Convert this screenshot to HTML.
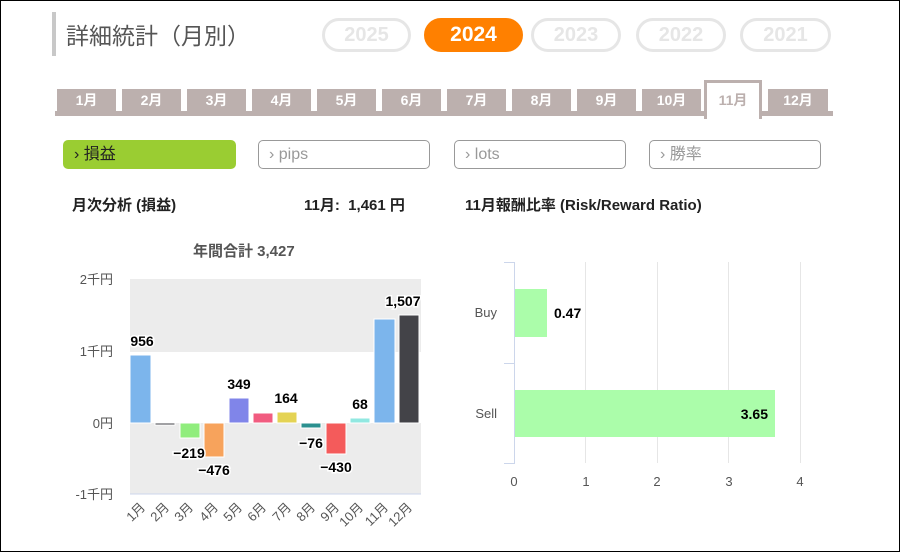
<!DOCTYPE html>
<html><head><meta charset="utf-8"><style>
body{margin:0;width:900px;height:552px;overflow:hidden;background:#fff;font-family:"Liberation Sans","Noto Sans CJK JP",sans-serif;}
.a{position:absolute}
.frame{position:absolute;left:0;top:0;width:898px;height:550px;border:1px solid #000}
.pill{position:absolute;top:18px;height:28px;border:3px solid #e6e6e6;border-radius:17px;color:#e6e6e6;font-weight:bold;font-size:20px;text-align:center;line-height:28px}
.tab{position:absolute;top:89px;height:23px;width:59px;background:#bcb0ae;color:#fff;font-weight:bold;font-size:14px;text-align:center;line-height:23px}
.btn{position:absolute;top:140px;height:27px;border:1px solid #999;border-radius:5px;color:#999;font-size:16px;line-height:27px;padding-left:10px;box-sizing:content-box}
.h{font-weight:bold;font-size:15px;color:#222}
</style></head><body>
<div class="frame"></div>
<div class="a" style="left:52px;top:12px;width:4px;height:44px;background:#c8c8c8"></div>
<div class="a" style="left:66px;top:17px;font-size:23px;color:#555">詳細統計（月別）</div>
<div class="pill" style="left:322px;width:83px">2025</div>
<div class="pill" style="left:424px;width:93px;background:#ff8000;border-color:#ff8000;color:#fff;font-size:21px">2024</div>
<div class="pill" style="left:531px;width:84px">2023</div>
<div class="pill" style="left:636px;width:84px">2022</div>
<div class="pill" style="left:740px;width:85px">2021</div>
<div class="a" style="left:55px;top:111px;width:778px;height:5px;background:#bcb0ae"></div>
<div class="tab" style="left:57px">1月</div>
<div class="tab" style="left:122px">2月</div>
<div class="tab" style="left:187px">3月</div>
<div class="tab" style="left:252px">4月</div>
<div class="tab" style="left:317px">5月</div>
<div class="tab" style="left:382px">6月</div>
<div class="tab" style="left:447px">7月</div>
<div class="tab" style="left:512px">8月</div>
<div class="tab" style="left:577px">9月</div>
<div class="tab" style="left:642px">10月</div>
<div class="a" style="left:704px;top:80px;width:52px;height:36px;background:#fff;border:3px solid #bcb0ae;border-bottom:none;color:#bcb0ae;font-weight:bold;font-size:14px;text-align:center;line-height:34px">11月</div>
<div class="tab" style="left:768px;width:60px">12月</div>
<div class="btn" style="left:63px;width:161px;background:#9acd32;border-color:#9acd32;color:#222">&#x203A; 損益</div>
<div class="btn" style="left:258px;width:160px">&#x203A; pips</div>
<div class="btn" style="left:454px;width:160px">&#x203A; lots</div>
<div class="btn" style="left:649px;width:160px">&#x203A; 勝率</div>
<div class="a h" style="left:72px;top:194px">月次分析 (損益)</div>
<div class="a h" style="left:304px;top:194px">11月:&nbsp; 1,461 円</div>
<div class="a h" style="left:465px;top:194px">11月報酬比率 (Risk/Reward Ratio)</div>
<div class="a" style="left:193px;top:240px;font-weight:bold;font-size:15px;color:#555">年間合計 3,427</div>
<svg class="a" style="left:0;top:0" width="900" height="552" font-family="Liberation Sans,Noto Sans CJK JP,sans-serif">
<rect x="130" y="279" width="291" height="73" fill="#ececec"/>
<rect x="130" y="423" width="291" height="71" fill="#ececec"/>
<line x1="130" y1="494" x2="421" y2="494" stroke="#ccd6eb"/>
<g font-size="13" fill="#555" text-anchor="end">
<text x="113" y="284">2千円</text><text x="113" y="356">1千円</text><text x="113" y="428">0円</text><text x="113" y="499">-1千円</text></g>
<g stroke="#fff" stroke-width="1">
<rect x="130" y="355" width="21" height="68" fill="#7cb5ec"/>
<rect x="155" y="423" width="20" height="2" fill="#434348"/>
<rect x="180" y="423" width="20" height="15" fill="#90ed7d"/>
<rect x="204" y="423" width="20" height="34" fill="#f7a35c"/>
<rect x="229" y="398" width="20" height="25" fill="#8085e9"/>
<rect x="253" y="413" width="20" height="10" fill="#f15c80"/>
<rect x="277" y="412" width="20" height="11" fill="#e4d354"/>
<rect x="301" y="423" width="20" height="5" fill="#2b908f"/>
<rect x="326" y="423" width="20" height="31" fill="#f45b5b"/>
<rect x="350" y="418" width="20" height="5" fill="#91e8e1"/>
<rect x="374" y="319" width="21" height="104" fill="#7cb5ec"/>
<rect x="399" y="315" width="20" height="108" fill="#434348"/>
</g>
<g font-size="14" font-weight="bold" fill="#000" text-anchor="middle" stroke="#fff" stroke-width="3" paint-order="stroke">
<text x="142" y="346">956</text><text x="189" y="458">−219</text><text x="214" y="475">−476</text>
<text x="239" y="389">349</text><text x="286" y="403">164</text><text x="311" y="448">−76</text>
<text x="336" y="472">−430</text><text x="360" y="409">68</text><text x="403" y="306">1,507</text></g>
<g font-size="13" fill="#555" text-anchor="end">
<text transform="translate(146,508) rotate(-45)">1月</text><text transform="translate(170,508) rotate(-45)">2月</text>
<text transform="translate(194,508) rotate(-45)">3月</text><text transform="translate(219,508) rotate(-45)">4月</text>
<text transform="translate(243,508) rotate(-45)">5月</text><text transform="translate(267,508) rotate(-45)">6月</text>
<text transform="translate(292,508) rotate(-45)">7月</text><text transform="translate(316,508) rotate(-45)">8月</text>
<text transform="translate(340,508) rotate(-45)">9月</text><text transform="translate(364,508) rotate(-45)">10月</text>
<text transform="translate(389,508) rotate(-45)">11月</text><text transform="translate(413,508) rotate(-45)">12月</text></g>
<g stroke="#e6e6e6"><line x1="585.5" y1="262" x2="585.5" y2="463"/><line x1="657.5" y1="262" x2="657.5" y2="463"/><line x1="728.5" y1="262" x2="728.5" y2="463"/><line x1="800.5" y1="262" x2="800.5" y2="463"/></g>
<path d="M504 262.5H514.5V463.5H504M504 363.5H514" stroke="#ccd6eb" fill="none"/>
<rect x="515" y="289" width="32" height="48" fill="#abfdaa"/>
<rect x="515" y="390" width="260" height="47" fill="#abfdaa"/>
<g font-size="14" font-weight="bold" fill="#000"><text x="554" y="318">0.47</text><text x="768" y="419" text-anchor="end">3.65</text></g>
<g font-size="13" fill="#555" text-anchor="end"><text x="497" y="317">Buy</text><text x="497" y="418">Sell</text></g>
<g font-size="13" fill="#555" text-anchor="middle"><text x="514" y="486">0</text><text x="586" y="486">1</text><text x="657" y="486">2</text><text x="729" y="486">3</text><text x="800" y="486">4</text></g>
</svg>
</body></html>
